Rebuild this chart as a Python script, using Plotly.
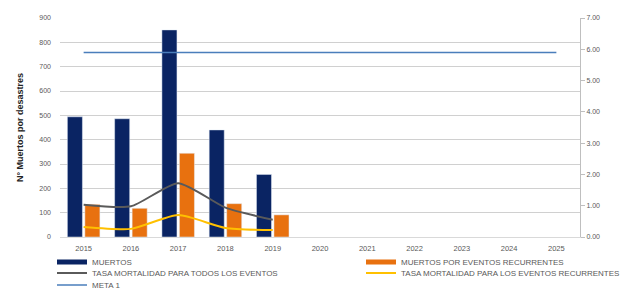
import plotly.graph_objects as go

years = ["2015", "2016", "2017", "2018", "2019", "2020", "2021", "2022", "2023", "2024", "2025"]
bar_years = years[:5]
muertos = [494, 486, 851, 440, 257]
muertos_recurrentes = [134, 118, 344, 137, 91]
tasa_todos = [1.03, 0.98, 1.72, 0.94, 0.55]
tasa_recurrentes = [0.32, 0.26, 0.70, 0.29, 0.22]
meta1 = [5.90] * len(years)

left_ticks = [0, 100, 200, 300, 400, 500, 600, 700, 800, 900]
right_ticks = [0, 1, 2, 3, 4, 5, 6, 7]

NAVY = "#0A2463"
ORANGE = "#E8710F"
GRAY = "#5A5A5A"
YELLOW = "#FFC000"
BLUE = "#4A7EBB"
TXT = "#595959"
FONT = "Liberation Sans"

fig = go.Figure()
fig.add_trace(go.Bar(x=bar_years, y=muertos, name="MUERTOS", marker_color=NAVY,
                     showlegend=False))
fig.add_trace(go.Bar(x=bar_years, y=muertos_recurrentes, name="MUERTOS POR EVENTOS RECURRENTES",
                     marker_color=ORANGE, showlegend=False))
fig.add_trace(go.Scatter(x=bar_years, y=tasa_todos, name="TASA MORTALIDAD PARA TODOS LOS EVENTOS",
                         mode="lines", line=dict(color=GRAY, width=2, shape="spline", smoothing=0.6),
                         yaxis="y2", showlegend=False))
fig.add_trace(go.Scatter(x=bar_years, y=tasa_recurrentes, name="TASA MORTALIDAD PARA LOS EVENTOS RECURRENTES",
                         mode="lines", line=dict(color=YELLOW, width=2, shape="spline", smoothing=0.6),
                         yaxis="y2", showlegend=False))
fig.add_trace(go.Scatter(x=years, y=meta1, name="META 1", mode="lines",
                         line=dict(color=BLUE, width=1.5), yaxis="y2", showlegend=False))

# page has an 8px body margin: work in page pixels and convert
OFF = 8
W, H = 630 - OFF, 291 - OFF
P_L, P_R, P_T, P_B = 60, 580, 18, 237  # plot area in page pixels
ml, mr, mt, mb = P_L - OFF, W - (P_R - OFF), P_T - OFF, H - (P_B - OFF)
pw = W - ml - mr
ph = H - mt - mb

def lx(px):
    return (px - OFF - ml) / pw

def ly(py):
    return (H - mb - (py - OFF)) / ph

# legend entries (thick-line swatches like the original), one legend per slot
leg = [
    ("MUERTOS", NAVY, 5, 52, 262),
    ("MUERTOS POR EVENTOS RECURRENTES", ORANGE, 5, 361, 262),
    ("TASA MORTALIDAD PARA TODOS LOS EVENTOS", GRAY, 2, 52, 273),
    ("TASA MORTALIDAD PARA LOS EVENTOS RECURRENTES", YELLOW, 2, 361, 273),
    ("META 1", BLUE, 1.5, 52, 285),
]
layout_legends = {}
for i, (name, col, w, px, py) in enumerate(leg):
    key = "legend" if i == 0 else f"legend{i + 1}"
    fig.add_trace(go.Scatter(x=[None], y=[None], name=name, mode="lines",
                             line=dict(color=col, width=w), legend=key, yaxis="y2"))
    layout_legends[key] = dict(x=lx(px), y=ly(py), xanchor="left", yanchor="middle",
                               orientation="h", font=dict(family=FONT, size=8, color=TXT),
                               bgcolor="rgba(0,0,0,0)", itemwidth=30)

fig.update_layout(
    width=W, height=H,
    margin=dict(l=ml, r=mr, t=mt, b=mb, autoexpand=False),
    paper_bgcolor="white", plot_bgcolor="white",
    barmode="group", bargap=0.26, bargroupgap=0.14,
    font=dict(family=FONT, size=8, color=TXT),
    xaxis=dict(type="category", categoryorder="array", categoryarray=years,
               range=[-0.5, 10.5], showgrid=False, showline=True, linecolor="#D9D9D9",
               ticks="", tickfont=dict(size=7.5, color=TXT), automargin=False,
               ticklabelstandoff=4),
    yaxis=dict(range=[0, 900], tickvals=left_ticks, showgrid=True, gridcolor="#D0D0D0",
               gridwidth=1, zeroline=False, showline=False, ticks="", automargin=False,
               tickfont=dict(size=7, color=TXT), ticklabelstandoff=8,
               title=dict(text="<b>N° Muertos por desastres</b>", font=dict(size=9, color="#222222"),
                          standoff=14)),
    yaxis2=dict(range=[0, 7], tickvals=right_ticks, tickformat=".2f", overlaying="y", side="right",
                showgrid=False, zeroline=False, showline=True, linecolor="#BFBFBF",
                ticks="outside", ticklen=4, tickcolor="#BFBFBF", automargin=False,
                tickfont=dict(size=7, color=TXT)),
    **layout_legends,
)

fig.add_annotation(text="<b>Tasa de mortalidad por cada 100.000 personas</b>", textangle=-90,
                   xref="paper", yref="paper", x=lx(629), y=0.5,
                   xanchor="center", yanchor="middle", showarrow=False,
                   font=dict(family=FONT, size=8, color="#222222"))

fig.write_html("out.html")
